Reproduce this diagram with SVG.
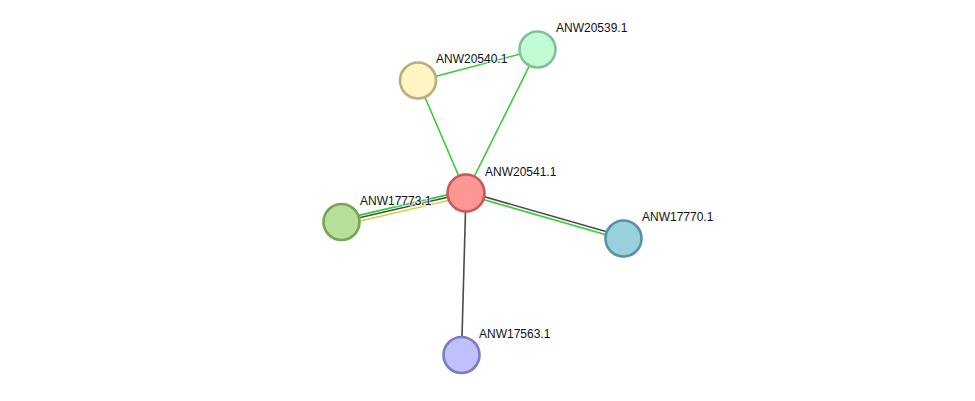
<svg xmlns="http://www.w3.org/2000/svg" width="975" height="401" viewBox="0 0 975 401">
<style>
.e{fill:none;stroke-width:1.6}
.g{stroke:#33cc33}
.k{stroke:#4a4a4a}
.y{stroke:#c8d836}
.n{stroke-width:2.6}
.t{font-family:"Liberation Sans",Arial,sans-serif;font-size:12px;fill:#111;stroke:#fff;stroke-width:2.5;stroke-opacity:0.6;paint-order:stroke}
</style>
<rect width="975" height="401" fill="#fff"/>
<g id="edges">
<line class="e g" x1="418" y1="81" x2="537.5" y2="49.5"/>
<line class="e g" x1="418" y1="81" x2="466" y2="193"/>
<line class="e g" x1="537.5" y1="49.5" x2="466" y2="193"/>
<line class="e k" x1="466" y1="193" x2="461.5" y2="355"/>
<line class="e g" x1="465.4" y1="190.6" x2="340.4" y2="219.6"/>
<line class="e k" x1="466" y1="193" x2="341" y2="222"/>
<line class="e y" x1="466.7" y1="196.2" x2="341.7" y2="225.2"/>
<line class="e k" x1="466.4" y1="191.6" x2="623.4" y2="236.6"/>
<line class="e g" x1="465.6" y1="194.4" x2="622.6" y2="239.4"/>
</g>
<g id="ANW20541.1"><circle class="n" cx="466" cy="193" r="18.5" fill="#ff9696" stroke="#c45a5a"/><text class="t" x="485" y="176">ANW20541.1</text></g>
<g id="ANW20540.1"><circle class="n" cx="418" cy="80.5" r="18" fill="#fef4c4" stroke="#bcae7c"/><text class="t" x="436" y="63">ANW20540.1</text></g>
<g id="ANW20539.1"><circle class="n" cx="537.5" cy="49.5" r="18" fill="#c2fcd4" stroke="#80c29a"/><text class="t" x="556" y="32">ANW20539.1</text></g>
<g id="ANW17773.1"><circle class="n" cx="341.5" cy="222" r="18" fill="#b6e09a" stroke="#78a456"/><text class="t" x="360" y="205">ANW17773.1</text></g>
<g id="ANW17770.1"><circle class="n" cx="623.5" cy="238.5" r="18" fill="#98d0de" stroke="#5a92a4"/><text class="t" x="642" y="221">ANW17770.1</text></g>
<g id="ANW17563.1"><circle class="n" cx="461.5" cy="355" r="18" fill="#c0c0fc" stroke="#7c7cc0"/><text class="t" x="479" y="338">ANW17563.1</text></g>
</svg>
